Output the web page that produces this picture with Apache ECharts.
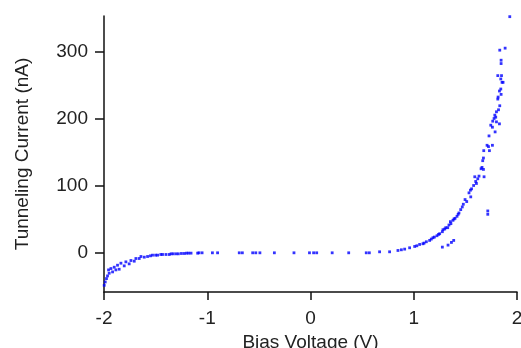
<!DOCTYPE html>
<html>
<head>
<meta charset="utf-8">
<script src="https://cdn.jsdelivr.net/npm/echarts@6/dist/echarts.min.js"></script>
<style>
  html, body { margin: 0; padding: 0; background: #fff; }
  #chart { width: 521px; height: 348px; }
</style>
</head>
<body>
<div id="chart"></div>
<script>
// Bias voltage (V) and tunneling current (nA)
const biasV = [
  -2.008, -1.998, -1.988, -1.976, -1.966, -1.956, -1.950, -1.933, -1.917, -1.901,
  -1.885, -1.869, -1.853, -1.836, -1.804, -1.788, -1.756, -1.739, -1.707, -1.691,
  -1.659, -1.642, -1.610, -1.578, -1.550, -1.530, -1.500, -1.481, -1.450, -1.433,
  -1.400, -1.368, -1.350, -1.330, -1.303, -1.280, -1.250, -1.222, -1.200, -1.180,
  -1.157, -1.093, -1.080, -1.050, -0.950, -0.900, -0.690, -0.660, -0.560, -0.530,
  -0.490, -0.350, -0.160, -0.010, 0.030, 0.060, 0.210, 0.370, 0.540, 0.570,
  0.669, 0.766, 0.847, 0.880, 0.912, 0.960, 1.009, 1.030, 1.057, 1.089,
  1.100, 1.122, 1.154, 1.170, 1.186, 1.200, 1.225, 1.240, 1.251, 1.277,
  1.283, 1.300, 1.310, 1.329, 1.341, 1.355, 1.360, 1.380, 1.390, 1.400,
  1.419, 1.430, 1.438, 1.455, 1.470, 1.480, 1.497, 1.513, 1.535, 1.549,
  1.552, 1.560, 1.580, 1.591, 1.600, 1.607, 1.620, 1.632, 1.652, 1.661,
  1.668, 1.675, 1.675, 1.678, 1.681, 1.710, 1.724, 1.729, 1.733, 1.746,
  1.762, 1.762, 1.765, 1.778, 1.785, 1.788, 1.794, 1.801, 1.801, 1.814,
  1.814, 1.817, 1.821, 1.830, 1.830, 1.833, 1.833, 1.843, 1.843, 1.846,
  1.846, 1.846, 1.850, 1.855, 1.865, 1.885, 1.930,
  // stray points below the main branch
  1.717, 1.717, 1.277, 1.332, 1.365, 1.387
];
const currentNA = [
  -55, -49, -44, -39, -35, -26, -31, -24, -29, -22,
  -26, -19, -25, -16, -20, -14, -17, -12, -13, -9,
  -9, -6, -7, -6, -5, -4, -4, -4, -3, -3,
  -3, -3, -2, -2, -2, -2, -1.5, -1.5, -1, -1,
  -1, -1, -0.5, -0.5, -0.5, -0.5, -0.5, -0.5, -0.5, -0.5,
  -0.5, -0.5, -0.5, -0.5, -0.5, -0.5, -0.5, -0.5, -0.5, -0.5,
  1, 1, 3, 4, 5, 7, 9, 10, 12, 13,
  14, 16, 18, 20, 22, 23, 25, 27, 28, 31,
  34, 35, 37, 37, 41, 46, 43, 48, 50, 51,
  54, 57, 59, 64, 68, 72, 79, 76, 89, 93,
  83, 95, 100, 113, 106, 103, 110, 114, 125, 127,
  137, 141, 124, 152, 113, 160, 158, 174, 152, 190,
  187, 160, 196, 200, 205, 180, 202, 210, 195, 264,
  229, 232, 213, 241, 192, 302, 219, 259, 244, 287,
  282, 236, 264, 254, 254, 305, 352,
  62, 57, 8, 11, 15, 18
];
const yTickValues = [0, 100, 200, 300];

const points = biasV.map((v, i) => [v, currentNA[i]]);

const chart = echarts.init(document.getElementById('chart'));

const axisFont = { fontFamily: 'Liberation Sans', fontSize: 19, color: '#222' };

chart.setOption({
  backgroundColor: '#ffffff',
  animation: false,
  grid: { left: 104, right: 4, top: 16, bottom: 56, outerBoundsMode: 'none', containLabel: false },
  xAxis: {
    type: 'value',
    min: -2,
    max: 2,
    interval: 1,
    name: 'Bias Voltage (V)',
    nameLocation: 'middle',
    nameGap: 37,
    nameTextStyle: axisFont,
    axisLine: { onZero: false, lineStyle: { color: '#111', width: 1.5 } },
    axisTick: { show: true, inside: false, length: 8, lineStyle: { color: '#111', width: 1.5 } },
    axisLabel: Object.assign({ margin: 17 }, axisFont),
    splitLine: { show: false }
  },
  yAxis: {
    type: 'value',
    min: -59,
    max: 353,
    name: 'Tunneling Current (nA)',
    nameLocation: 'middle',
    nameGap: 72,
    nameTextStyle: axisFont,
    axisLine: { show: true, onZero: false, lineStyle: { color: '#111', width: 1.5 } },
    axisTick: {
      show: true, inside: false, length: 9,
      customValues: yTickValues,
      lineStyle: { color: '#111', width: 1.5 }
    },
    axisLabel: Object.assign({ margin: 16, customValues: yTickValues }, axisFont),
    splitLine: { show: false }
  },
  series: [
    {
      name: 'I-V',
      type: 'scatter',
      data: points,
      symbol: 'rect',
      symbolSize: 2.8,
      itemStyle: { color: '#0000ff' },
      silent: true
    }
  ]
});
</script>
</body>
</html>
